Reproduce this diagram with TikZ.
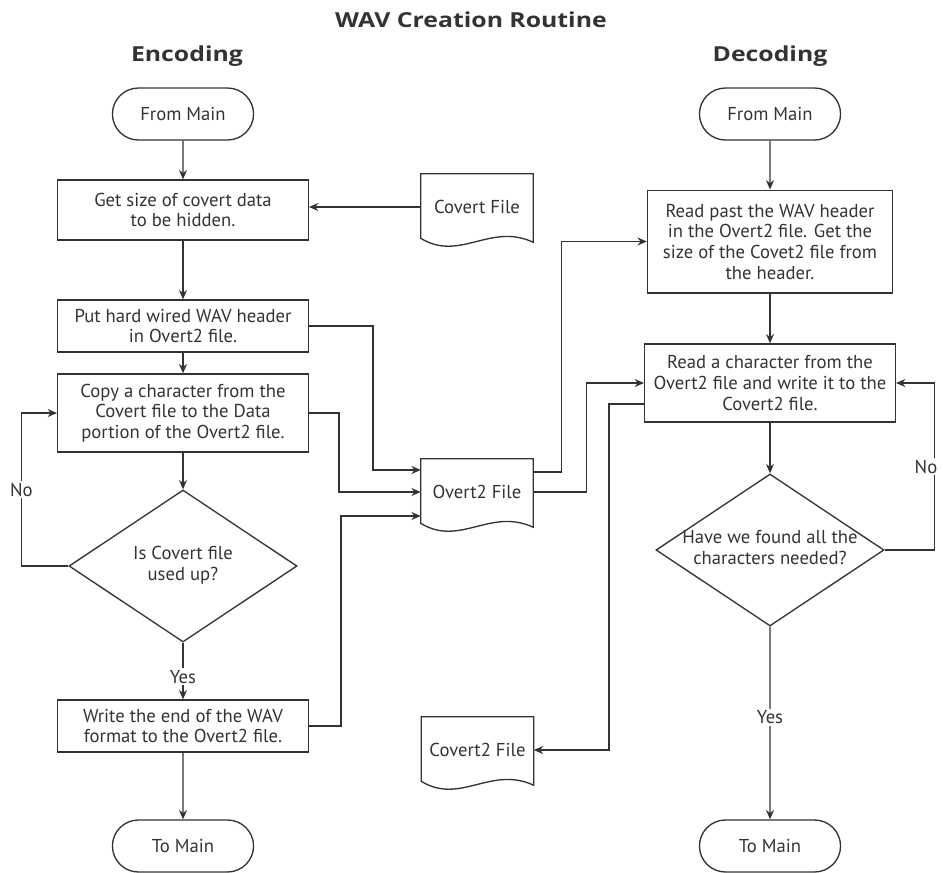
\documentclass[tikz,border=0pt]{standalone}
\usepackage{fontspec}
\setmainfont{PT Sans}
\newfontfamily\headfont[FakeStretch=1.2]{Open Sans}
\usetikzlibrary{shapes.geometric,shapes.misc,arrows.meta,positioning,calc}
\usepackage{xcolor}
\definecolor{ink}{HTML}{333333}

% wavy document outline around a named node
\newcommand{\docoutline}[1]{%
  \draw[ink, line width=1pt] (#1.north west) -- (#1.north east) -- ($(#1.south east)+(0,2)$)
    .. controls ($(#1.south east)+(-43,-18)$) and ($(#1.south west)+(39,22)$) .. ($(#1.south west)+(0,-2)$) -- cycle;}
% two-line text that does not widen a diamond
\newcommand{\dtext}[2]{\makebox[0pt]{\begin{tabular}{@{}c@{}}#1\\#2\end{tabular}}}

\begin{document}
\begin{tikzpicture}[x=0.75pt, y=-0.75pt, font=\fontsize{14}{15.5}\selectfont,
  proc/.style={draw=ink, line width=1pt, text=ink, rectangle, minimum width=188pt, align=center, inner sep=2pt},
  term/.style={draw=ink, line width=1pt, text=ink, rounded rectangle, minimum width=112.5pt, minimum height=39pt},
  dec/.style={draw=ink, line width=1pt, text=ink, diamond, minimum width=171pt, minimum height=114pt, inner sep=0pt},
  doc/.style={text=ink, minimum width=84pt, minimum height=49.5pt, inner sep=0pt},
  arr/.style={draw=ink, line width=1pt, -{Stealth[length=7pt,width=6pt]}},
  lbl/.style={fill=white, text=ink, inner sep=1.5pt},
  head/.style={text=ink, font=\headfont\fontsize{15.5}{19}\selectfont\bfseries}]
  \useasboundingbox (0,0) rectangle (943,872);

  % Headings
  \node[head] (title) at (471,20) {WAV Creation Routine};
  \node[head] (enc) at (187,56) {Encoding};
  \node[head] (dec) at (770,56) {Decoding};

  % Encoding column
  \node[term] (st1) at (183,114) {From Main};
  \node[proc, minimum height=45pt] (box1) at (183,210) {Get size of covert data\\to be hidden.};
  \node[proc, minimum height=39pt] (box2) at (183,326) {Put hard wired WAV header\\in Overt2 file.};
  \node[proc, minimum height=58.5pt] (box3) at (183,413) {Copy a character from the\\Covert file to the Data\\portion of the Overt2 file.};
  \node[dec] (d1) at (183,566) {\dtext{Is Covert file}{used up?}};
  \node[proc, minimum height=39pt] (box4) at (183,726) {Write the end of the WAV\\format to the Overt2 file.};
  \node[term] (end1) at (183,846) {To Main};

  % Files
  \node[doc] (cf) at (477,207) {Covert File};
  \node[doc] (ov) at (477,492) {Overt2 File};
  \node[doc] (cv2) at (477.5,750) {Covert2 File};
  \docoutline{cf}
  \docoutline{ov}
  \docoutline{cv2}

  % Decoding column
  \node[term] (st2) at (770,114) {From Main};
  \node[proc, minimum width=183.75pt, minimum height=77pt] (r1) at (770,241.5) {Read past the WAV header\\in the Overt2 file. Get the\\size of the Covet2 file from\\the header.};
  \node[proc, minimum height=58.5pt] (r2) at (770,383) {Read a character from the\\Overt2 file and write it to the\\Covert2 file.};
  \node[dec] (d2) at (770,550) {\dtext{Have we found all the}{characters needed?}};
  \node[term] (end2) at (770,846) {To Main};

  % Encoding flow
  \draw[arr] (st1) -- (box1);
  \draw[arr] (cf.west) -- (cf.west -| box1.east);
  \draw[arr] (box1) -- (box2);
  \draw[arr] (box2) -- (box3);
  \draw[arr] (box3) -- (d1);
  \draw[arr] (d1.west) -- ++(-47,0) |- node[lbl, pos=0.25] {No} (box3.west);
  \draw[arr] (d1) -- node[lbl, pos=0.6] {Yes} (box4);
  \draw[arr] (box4) -- (end1);

  % Into and out of Overt2
  \draw[arr] (box2.east) -- ++(64,0) |- ($(ov.west)+(0,-22)$);
  \draw[arr] (box3.east) -- ++(30,0) |- (ov.west);
  \draw[arr] (box4.east) -- ++(32,0) |- ($(ov.west)+(0,24)$);
  \draw[arr] ($(ov.east)+(0,-20)$) -- ++(28,0) |- (r1.west);
  \draw[arr] (ov.east) -- ++(53,0) |- (r2.west);
  \draw[arr] ($(r2.west)+(0,21)$) -- ++(-35,0) |- (cv2.east);

  % Decoding flow
  \draw[arr] (st2) -- (r1);
  \draw[arr] (r1) -- (r2);
  \draw[arr] (r2) -- (d2);
  \draw[arr] (d2.east) -- ++(50,0) |- node[lbl, pos=0.25, xshift=-6.5] {No} (r2.east);
  \draw[arr] (d2) -- node[lbl, pos=0.47] {Yes} (end2);
\end{tikzpicture}
\end{document}
